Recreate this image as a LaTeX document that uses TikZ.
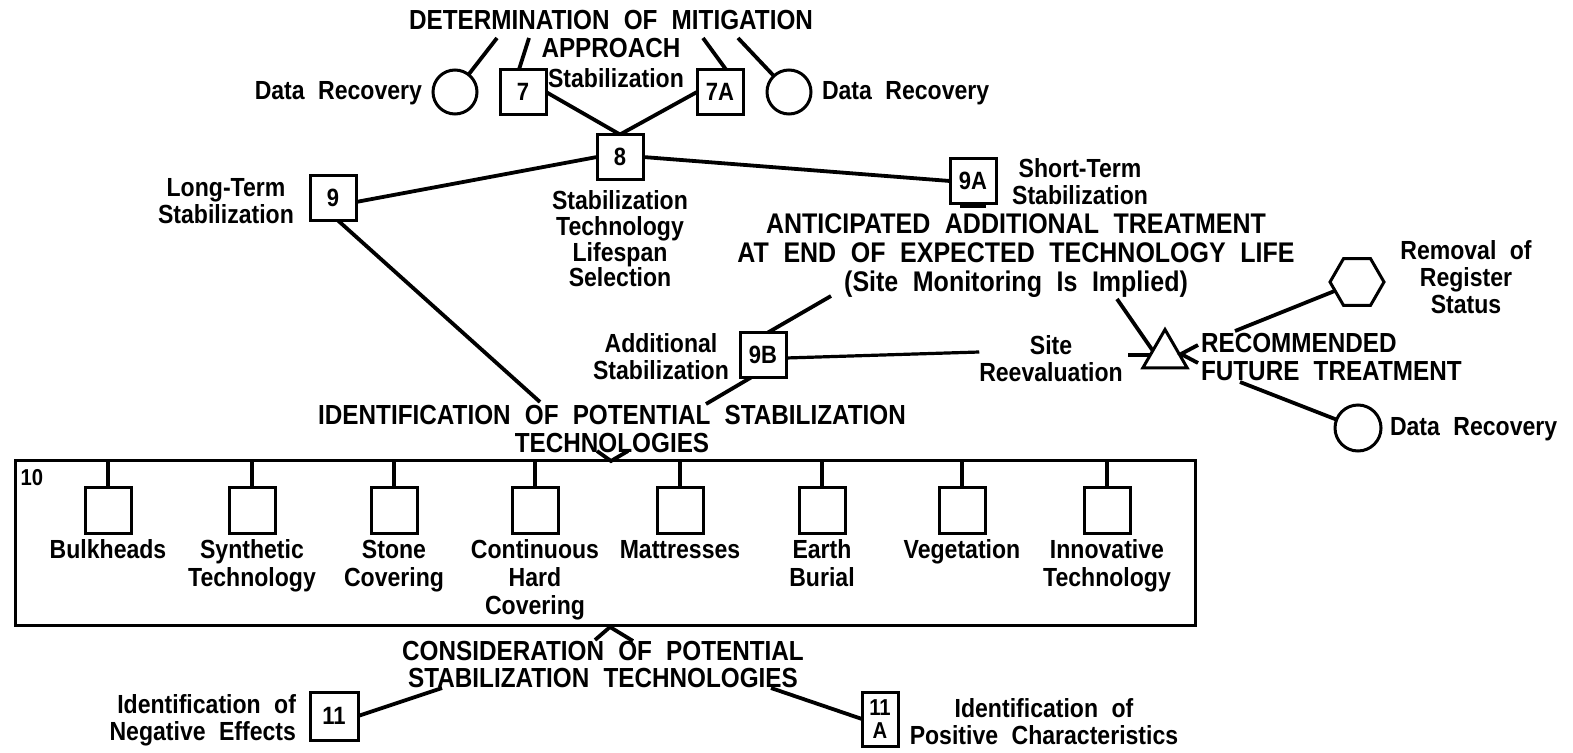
\documentclass[tikz,border=0pt]{standalone}
\usepackage{fontspec}
\setmainfont{Liberation Sans}[WordSpace=2.1]
% narrow, tall bold face for all lettering
\newfontfamily\narrowsans{Liberation Sans}[FakeStretch=0.88, WordSpace=2.1]
\usetikzlibrary{shapes.geometric}

\begin{document}
\begin{tikzpicture}[x=1pt,y=-1pt,
  every node/.style={inner sep=0pt, outer sep=0pt},
  lbl/.style={font=\narrowsans\bfseries\fontsize{26.2}{27}\selectfont, align=center},
  ttl/.style={font=\narrowsans\bfseries\fontsize{27.6}{28}\selectfont, align=center},
  numbox/.style={draw, line width=3pt, minimum width=46pt, minimum height=45pt,
    font=\narrowsans\bfseries\fontsize{25}{24}\selectfont},
  techbox/.style={draw, line width=3pt, minimum width=46pt, minimum height=46pt},
  drc/.style={draw, line width=3pt, circle, minimum size=44pt},
  link/.style={line width=3.8pt},
]
\useasboundingbox (0,0) rectangle (1573,752);

% ---- mitigation approach ----
\node[ttl] (det) at (611,20) {DETERMINATION OF MITIGATION};
\node[ttl] (app) at (611,48) {APPROACH};
\node[lbl] (stab7) at (616,78) {Stabilization};
\node[drc] (circL) at (455,92) {};
\node[lbl, anchor=east] (drL) at (422,93) {Data Recovery};
\node[numbox] (b7) at (523,92) {7};
\node[numbox] (b7a) at (720,92) {7A};
\node[drc] (circR) at (789,92) {};
\node[lbl, anchor=west] (drR) at (822,93) {Data Recovery};

\coordinate (d1) at (497,38);
\coordinate (d2) at (529,38);
\coordinate (d3) at (703,38);
\coordinate (d4) at (738,38);
\draw[link] (d1) -- (circL);
\draw[link] (d2) -- ([xshift=-4pt]b7.north);
\draw[link] (d3) -- ([xshift=6pt]b7a.north);
\draw[link] (d4) -- (circR);

% ---- lifespan selection ----
\node[numbox] (b8) at (620,157) {8};
\node[lbl, font=\narrowsans\bfseries\fontsize{26.2}{25.7}\selectfont] (l8) at (620,239)
  {Stabilization\\Technology\\Lifespan\\Selection};
\draw[link] (b7.east) -- (b8.north);
\draw[link] (b7a.west) -- (b8.north);

\node[numbox] (b9) at (333,198) {9};
\node[lbl] (l9) at (226,201) {Long-Term\\Stabilization};
\node[numbox] (b9a) at (973,181) {9A};
\node[lbl] (l9a) at (1080,182) {Short-Term\\Stabilization};
\draw[link] (b8.west) -- ([yshift=-4pt]b9.east);
\draw[link] (b8.east) -- (b9a.west);
\coordinate (s1) at (960,206);
\coordinate (s2) at (986,206);
\draw[link] (s1) -- (s2);

% ---- anticipated treatment ----
\node[ttl, font=\narrowsans\bfseries\fontsize{28.4}{29}\selectfont] (ant) at (1016,256)
  {ANTICIPATED ADDITIONAL TREATMENT\\AT END OF EXPECTED TECHNOLOGY LIFE\\(Site Monitoring Is Implied)};
\node[numbox] (b9b) at (763,355) {9B};
\node[lbl] (l9b) at (661,357) {Additional\\Stabilization};
\coordinate (a1) at (831,296);
\coordinate (a2) at (1117,299);
\draw[link] (a1) -- ([xshift=5pt]b9b.north);

\node[lbl] (site) at (1051,359) {Site\\Reevaluation};
\draw[line width=3.2pt] ([yshift=-3pt]b9b.east) -- (site.west |- 0,352);

\node[draw, line width=3pt, regular polygon, regular polygon sides=3,
  minimum size=51pt] (tri) at (1165,355) {};
\coordinate (t1) at (1128,355);
\draw[link] (t1) -- (tri.west);
\draw[link] (a2) -- (1153,351);

\node[ttl, align=left, anchor=west] (rec) at (1201,357) {RECOMMENDED\\FUTURE TREATMENT};
\coordinate (r1) at (1198,345);
\coordinate (r2) at (1181,354);
\coordinate (r3) at (1198,363);
\draw[link] (r1) -- (r2) -- (r3);

\node[draw, line width=3pt, regular polygon, regular polygon sides=6,
  minimum size=54pt] (hex) at (1357,282) {};
\node[lbl] (lhex) at (1466,277) {Removal of\\Register\\Status};
\coordinate (r4) at (1235,331);
\draw[link] (r4) -- (hex);

\node[drc, minimum size=46pt] (circB) at (1358,428) {};
\node[lbl, anchor=west] (drB) at (1390,429) {Data Recovery};
\coordinate (r5) at (1240,382);
\draw[link] (r5) -- (circB);

% ---- identification of technologies ----
\node[ttl] (ident) at (612,429)
  {IDENTIFICATION OF POTENTIAL STABILIZATION\\TECHNOLOGIES};
\coordinate (i1) at (540,402);
\coordinate (i2) at (706,404);
\draw[link] ([xshift=5pt]b9.south) -- (i1);
\draw[link] ([xshift=-12pt]b9b.south) -- (i2);

\node[draw, line width=3pt, minimum width=1180pt, minimum height=165pt] (t10) at (605,542.5) {};
\node[font=\narrowsans\bfseries\fontsize{23}{22}\selectfont] (n10) at (32,478) {10};

\coordinate (v1) at (597,451);
\coordinate (v2) at (611,461);
\coordinate (v3) at (628,451);
\draw[link] (v1) -- (v2) -- (v3);

\foreach \x/\nm/\txt in {108/tb1/Bulkheads, 252/tb2/{Synthetic\\Technology},
    394/tb3/{Stone\\Covering}, 535/tb4/{Continuous\\Hard\\Covering},
    680/tb5/Mattresses, 822/tb6/{Earth\\Burial}, 962/tb7/Vegetation,
    1107/tb8/{Innovative\\Technology}} {
  \node[techbox] (\nm) at (\x,510) {};
  \draw[line width=3.5pt] (\nm.north) -- (\nm.north |- t10.north);
  \node[lbl, font=\narrowsans\bfseries\fontsize{26.2}{28}\selectfont, anchor=north] (\nm-l) at (\x,540) {\txt};
}

% ---- consideration of technologies ----
\node[ttl, font=\narrowsans\bfseries\fontsize{27.6}{27}\selectfont] (cons) at (603,664)
  {CONSIDERATION OF POTENTIAL\\STABILIZATION TECHNOLOGIES};
\coordinate (u1) at (595,640);
\coordinate (u2) at (610,627);
\coordinate (u3) at (633,641);
\draw[link] (u1) -- (u2) -- (u3);

\node[numbox, minimum width=48pt, minimum height=48pt] (b11) at (334,716) {11};
\node[lbl, align=right, anchor=east] (l11) at (296,720) {Identification of\\Negative Effects};
\node[numbox, minimum width=36pt, minimum height=54pt, align=center,
  font=\narrowsans\bfseries\fontsize{23}{23}\selectfont] (b11a) at (880,719) {11\\A};
\node[lbl] (l11a) at (1044,722) {Identification of\\Positive Characteristics};
\coordinate (c1) at (442,688);
\coordinate (c2) at (771,688);
\draw[link] (b11.east) -- (c1);
\draw[link] (c2) -- (b11a.west);
\end{tikzpicture}
\end{document}
